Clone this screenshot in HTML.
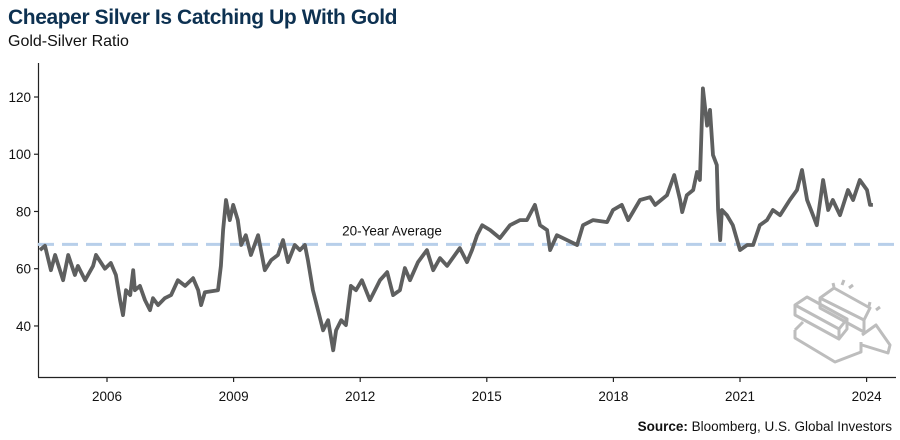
<!DOCTYPE html>
<html><head><meta charset="utf-8">
<style>
body{margin:0;background:#fff;font-family:"Liberation Sans",sans-serif;}
#wrap{position:relative;width:900px;height:440px;overflow:hidden;}
.title{position:absolute;left:8px;top:6px;font-size:21px;font-weight:bold;color:#0d3151;letter-spacing:-0.4px;}
.sub{position:absolute;left:8px;top:33px;font-size:16px;color:#111;}
.src{position:absolute;right:8px;top:419px;font-size:13.5px;color:#111;}
svg{position:absolute;left:0;top:0;}
</style></head><body>
<div id="wrap">
<div class="title">Cheaper Silver Is Catching Up With Gold</div>
<div class="sub">Gold-Silver Ratio</div>
<svg id="c" width="900" height="440">
<g fill="none" stroke="#bdbdbd" stroke-width="3" stroke-linejoin="round">
<path d="M795 305 l12 -8 l40 22 l-8 10 z M795 305 l0 10 l44 24 l0 -10 M839 339 l8 -10 l0 -10"/>
<path d="M820 298 l14 -10 l36 20 l-6 12 z M820 298 l0 10 l44 24 l0 -12"/>
<path d="M795 330 l8 -8 M795 330 l0 8 l40 24 l26 -10 l0 -10"/>
<path d="M862 335 l14 -10 l14 20 l-2 8 l-26 -8"/>
<path d="M834 287 l-1 -4 M842 285 l2 -5 M849 288 l4 -3 M869 306 l1 -4 M876 310 l4 -3"/>
</g>
</svg>
<div class="src"><b>Source:</b> Bloomberg, U.S. Global Investors</div>
</div>
<script>
const years=[2004.41,2004.53,2004.67,2004.77,2004.96,2005.08,2005.24,2005.31,2005.48,2005.67,2005.74,2005.95,2006.09,2006.21,2006.31,2006.38,2006.45,2006.55,2006.62,2006.66,2006.78,2006.90,2007.02,2007.09,2007.21,2007.37,2007.52,2007.68,2007.85,2008.04,2008.16,2008.23,2008.32,2008.63,2008.70,2008.75,2008.82,2008.91,2008.99,2009.10,2009.18,2009.29,2009.41,2009.58,2009.74,2009.89,2010.05,2010.17,2010.29,2010.45,2010.57,2010.69,2010.76,2010.88,2011.00,2011.12,2011.24,2011.36,2011.43,2011.55,2011.66,2011.78,2011.90,2012.04,2012.23,2012.47,2012.64,2012.78,2012.94,2013.06,2013.18,2013.37,2013.58,2013.73,2013.89,2014.06,2014.36,2014.53,2014.65,2014.77,2014.89,2015.08,2015.31,2015.55,2015.79,2015.95,2016.14,2016.26,2016.43,2016.50,2016.66,2016.90,2017.14,2017.28,2017.52,2017.85,2017.99,2018.20,2018.35,2018.63,2018.87,2018.99,2019.27,2019.44,2019.58,2019.63,2019.74,2019.89,2019.98,2020.05,2020.12,2020.22,2020.29,2020.36,2020.45,2020.48,2020.53,2020.57,2020.69,2020.83,2021.00,2021.17,2021.31,2021.47,2021.64,2021.78,2021.95,2022.18,2022.35,2022.47,2022.59,2022.73,2022.82,2022.97,2023.09,2023.20,2023.37,2023.56,2023.68,2023.84,2024.01,2024.08,2024.15];
const ratios=[66.5,68,59.5,64.8,56,64.8,57.8,61,56,61,64.8,60,62,57.8,49,43.8,52.5,50.8,59.5,52.5,54,49,45.5,49.7,47.3,49.7,50.8,56,54,56.7,52.5,47.3,51.8,52.5,61,73.5,84,77,82.3,77,68.3,71.7,64.8,71.7,59.5,63,64.8,70,62.3,68.3,66.5,68.3,63,52.5,45.5,38.5,42,31.5,38.5,42,40.3,54,52.5,56,49,56,58.8,50.8,52.5,60.2,56,62.3,66.5,59.5,63.7,61,67.2,62.3,66.5,71.7,75.2,73.5,70.7,75.2,77,77,82.3,75.2,73.5,66.5,71.7,70,68.3,75.2,77,76.3,80.5,82.3,77,84,85,82.3,85.7,92.7,84,79.8,85.7,87.5,93.8,91,123,110,115.5,99.7,96.2,80.5,70,80.5,78.7,75.2,66.5,68.3,68.3,75.2,77,80.5,78.7,84,87.5,94.5,84,78.7,75.2,91,80.5,84,78.7,87.5,84,91,87.5,82.3,82.3];
const yTicks=[40,60,80,100,120];
const xTicks=[2006,2009,2012,2015,2018,2021,2024];
const averageValue=68.5;
const NS="http://www.w3.org/2000/svg";
const svg=document.getElementById('c');
const X=t=>107+(t-2006)*42.2;
const Y=v=>97+(120-v)*2.862;
function mk(tag,attrs){const e=document.createElementNS(NS,tag);for(const k in attrs)e.setAttribute(k,attrs[k]);svg.appendChild(e);return e;}
let ya=mk('line',{x1:38.5,x2:38.5,y1:63,y2:377,stroke:'#222','stroke-width':1.2});


let xa=mk('line',{x1:38,x2:896,y1:377.5,y2:377.5,stroke:'#222','stroke-width':1.2});


yTicks.forEach(v=>{
 let t=mk('line',{x1:34,x2:38,y1:Y(v),y2:Y(v),stroke:'#222','stroke-width':1.2});
 
 
 let l=mk('text',{x:31,y:Y(v)+5,'text-anchor':'end','font-size':13.5,fill:'#111'});
 l.textContent=v;
 
 
});
xTicks.forEach(v=>{
 let t=mk('line',{x1:X(v),x2:X(v),y1:377,y2:382,stroke:'#222','stroke-width':1.2});
 
 
 let l=mk('text',{x:X(v),y:401,'text-anchor':'middle','font-size':13.5,fill:'#111'});
 l.textContent=v;
 
 
});
let av=mk('line',{x1:38,x2:896,y1:Y(averageValue),y2:Y(averageValue),stroke:'#b8cfea','stroke-width':3,'stroke-dasharray':'16 8'});


let at=mk('text',{x:392,y:Y(averageValue)-9,'text-anchor':'middle','font-size':13.5,fill:'#111'});
at.textContent='20-Year Average';


let d=years.map((t,i)=>(i?'L':'M')+X(t).toFixed(1)+' '+Y(ratios[i]).toFixed(1)).join(' ');
let p=mk('path',{d:d,fill:'none',stroke:'#5e5f5f','stroke-width':3.8,'stroke-linejoin':'round'});


</script>
</body></html>
